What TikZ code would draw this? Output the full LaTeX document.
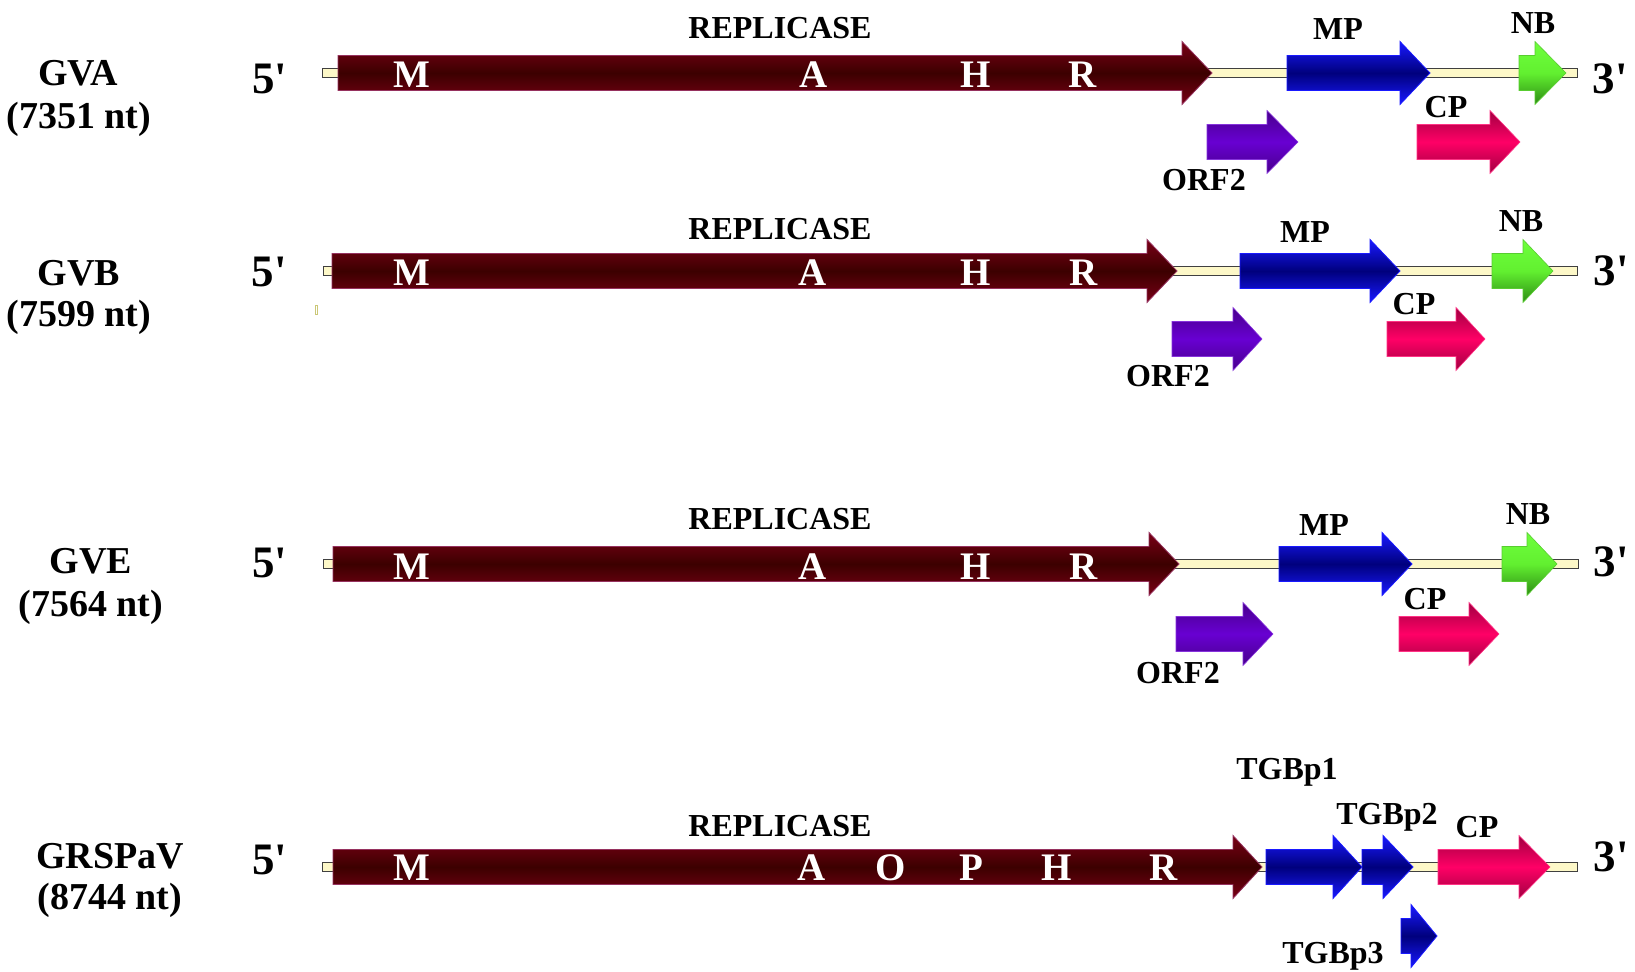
\documentclass[tikz,border=0pt]{standalone}
\usepackage{fontspec}
\setmainfont{Liberation Serif}
\definecolor{replEdge}{RGB}{122,0,22}
\definecolor{replMid}{RGB}{60,0,0}
\definecolor{replLine}{RGB}{150,50,95}
\definecolor{mpEdge}{RGB}{25,25,255}
\definecolor{mpMid}{RGB}{0,0,125}
\definecolor{nbLight}{RGB}{110,255,60}
\definecolor{nbMid}{RGB}{98,240,48}
\definecolor{nbDark}{RGB}{45,140,20}
\definecolor{orfEdge}{RGB}{72,0,140}
\definecolor{orfMid}{RGB}{104,0,210}
\definecolor{cpEdge}{RGB}{160,0,65}
\definecolor{cpMid}{RGB}{255,0,102}
\definecolor{rnaFill}{RGB}{253,248,200}
\tikzset{
  repl/.style={top color=replEdge, bottom color=replEdge, middle color=replMid, draw=replLine, line width=0.4pt},
  blueorf/.style={top color=mpEdge, bottom color=mpEdge, middle color=mpMid, draw=mpEdge, line width=0.4pt},
  greenorf/.style={top color=nbLight, bottom color=nbDark, middle color=nbMid, draw=nbLight!80!black, line width=0.3pt},
  purpleorf/.style={top color=orfEdge, bottom color=orfEdge, middle color=orfMid, draw=orfMid!80!white, line width=0.3pt},
  pinkorf/.style={top color=cpEdge, bottom color=cpEdge, middle color=cpMid, draw=cpMid!80!white, line width=0.3pt},
  rna/.style={fill=rnaFill, draw=black!75, line width=0.5pt},
  species/.style={font=\fontsize{19}{22}\selectfont\bfseries, inner sep=0pt, align=center},
  endlbl/.style={font=\fontsize{22.5}{24}\selectfont\bfseries, inner sep=0pt},
  genelbl/.style={font=\fontsize{16}{17}\selectfont\bfseries, inner sep=0pt},
  motif/.style={font=\fontsize{19.5}{20}\selectfont\bfseries, text=white, inner sep=0pt},
}
% gene arrow: #1 style, #2 left x, #3 head base x, #4 tip x, #5 axis y
\newcommand{\orfarrow}[5]{%
  \shade[#1] (#2,#5-17.5) -- (#3,#5-17.5) -- (#3,#5-31.5) -- (#4,#5)
    -- (#3,#5+31.5) -- (#3,#5+17.5) -- (#2,#5+17.5) -- cycle;}
% RNA backbone: #1 left x, #2 right x, #3 axis y
\newcommand{\rnaline}[3]{%
  \draw[rna] (#1,#3-4.5) rectangle (#2,#3+4.5);}
\begin{document}
\begin{tikzpicture}[x=0.5pt,y=-0.5pt]
\useasboundingbox (0,0) rectangle (1635,972);

% ---------------- GVA ----------------
\rnaline{322}{1577}{73}
\orfarrow{repl}{338}{1182}{1212}{73}
\orfarrow{blueorf}{1287}{1400}{1430}{73}
\orfarrow{greenorf}{1519}{1535}{1566}{73}
\orfarrow{purpleorf}{1207}{1267}{1298}{142}
\orfarrow{pinkorf}{1417}{1490}{1520}{142}
\node[species] (gva) at (78,73) {GVA};
\node[species] (gvalen) at (79,119) {(7351 nt)};
\node[endlbl] (gva5) at (270,79) {5\textquotesingle};
\node[endlbl] (gva3) at (1610,79) {3\textquotesingle};
\node[genelbl] (gvarep) at (780,28) {REPLICASE};
\node[motif] (gvaM) at (412,75) {M};
\node[motif] (gvaA) at (814,75) {A};
\node[motif] (gvaH) at (976,75) {H};
\node[motif] (gvaR) at (1083,75) {R};
\node[genelbl] (gvamp) at (1338,29) {MP};
\node[genelbl] (gvanb) at (1533,23) {NB};
\node[genelbl] (gvacp) at (1446,107) {CP};
\node[genelbl] (gvaorf) at (1204,180) {ORF2};

% ---------------- GVB ----------------
\rnaline{323}{1577}{271}
\orfarrow{repl}{332}{1147}{1177}{271}
\orfarrow{blueorf}{1240}{1370}{1400}{271}
\orfarrow{greenorf}{1492}{1523}{1553}{271}
\orfarrow{purpleorf}{1172}{1233}{1262}{339}
\orfarrow{pinkorf}{1387}{1456}{1485}{339}
\draw[draw=rnaFill!60!olive, line width=0.4pt] (315,305) rectangle (317,314);
\node[species] (gvb) at (79,273) {GVB};
\node[species] (gvblen) at (79,317) {(7599 nt)};
\node[endlbl] (gvb5) at (269,272) {5\textquotesingle};
\node[endlbl] (gvb3) at (1611,271) {3\textquotesingle};
\node[genelbl] (gvbrep) at (780,229) {REPLICASE};
\node[motif] (gvbM) at (412,273) {M};
\node[motif] (gvbA) at (813,273) {A};
\node[motif] (gvbH) at (976,273) {H};
\node[motif] (gvbR) at (1084,273) {R};
\node[genelbl] (gvbmp) at (1305,232) {MP};
\node[genelbl] (gvbnb) at (1521,221) {NB};
\node[genelbl] (gvbcp) at (1414,304) {CP};
\node[genelbl] (gvborf) at (1168,376) {ORF2};

% ---------------- GVE ----------------
\rnaline{323}{1578}{564}
\orfarrow{repl}{333}{1149}{1179}{564}
\orfarrow{blueorf}{1279}{1382}{1412}{564}
\orfarrow{greenorf}{1502}{1527}{1557}{564}
\orfarrow{purpleorf}{1176}{1243}{1273}{634}
\orfarrow{pinkorf}{1399}{1469}{1499}{634}
\node[species] (gve) at (91,561) {GVE};
\node[species] (gvelen) at (91,607) {(7564 nt)};
\node[endlbl] (gve5) at (270,563) {5\textquotesingle};
\node[endlbl] (gve3) at (1611,562) {3\textquotesingle};
\node[genelbl] (gverep) at (780,519) {REPLICASE};
\node[motif] (gveM) at (412,567) {M};
\node[motif] (gveA) at (813,567) {A};
\node[motif] (gveH) at (976,567) {H};
\node[motif] (gveR) at (1084,567) {R};
\node[genelbl] (gvemp) at (1324,525) {MP};
\node[genelbl] (gvenb) at (1528,514) {NB};
\node[genelbl] (gvecp) at (1425,599) {CP};
\node[genelbl] (gveorf) at (1178,673) {ORF2};

% ---------------- GRSPaV ----------------
\rnaline{322}{1577}{867}
\orfarrow{repl}{333}{1233}{1262}{867}
\orfarrow{blueorf}{1266}{1333}{1362}{867}
\orfarrow{blueorf}{1362}{1383}{1413}{867}
\orfarrow{pinkorf}{1438}{1519}{1550}{867}
\orfarrow{blueorf}{1401}{1411}{1437}{936}
\node[species] (grs) at (110,856) {GRSPaV};
\node[species] (grslen) at (110,900) {(8744 nt)};
\node[endlbl] (grs5) at (270,860) {5\textquotesingle};
\node[endlbl] (grs3) at (1611,857) {3\textquotesingle};
\node[genelbl] (grsrep) at (780,826) {REPLICASE};
\node[motif] (grsM) at (412,868) {M};
\node[motif] (grsA) at (812,868) {A};
\node[motif] (grsO) at (891,868) {O};
\node[motif] (grsP) at (971,868) {P};
\node[motif] (grsH) at (1057,868) {H};
\node[motif] (grsR) at (1164,868) {R};
\node[genelbl] (grst1) at (1287,772) {TGBp1};
\node[genelbl] (grst2) at (1387,817) {TGBp2};
\node[genelbl] (grscp) at (1477,827) {CP};
\node[genelbl] (grst3) at (1333,956) {TGBp3};
\end{tikzpicture}
\end{document}
